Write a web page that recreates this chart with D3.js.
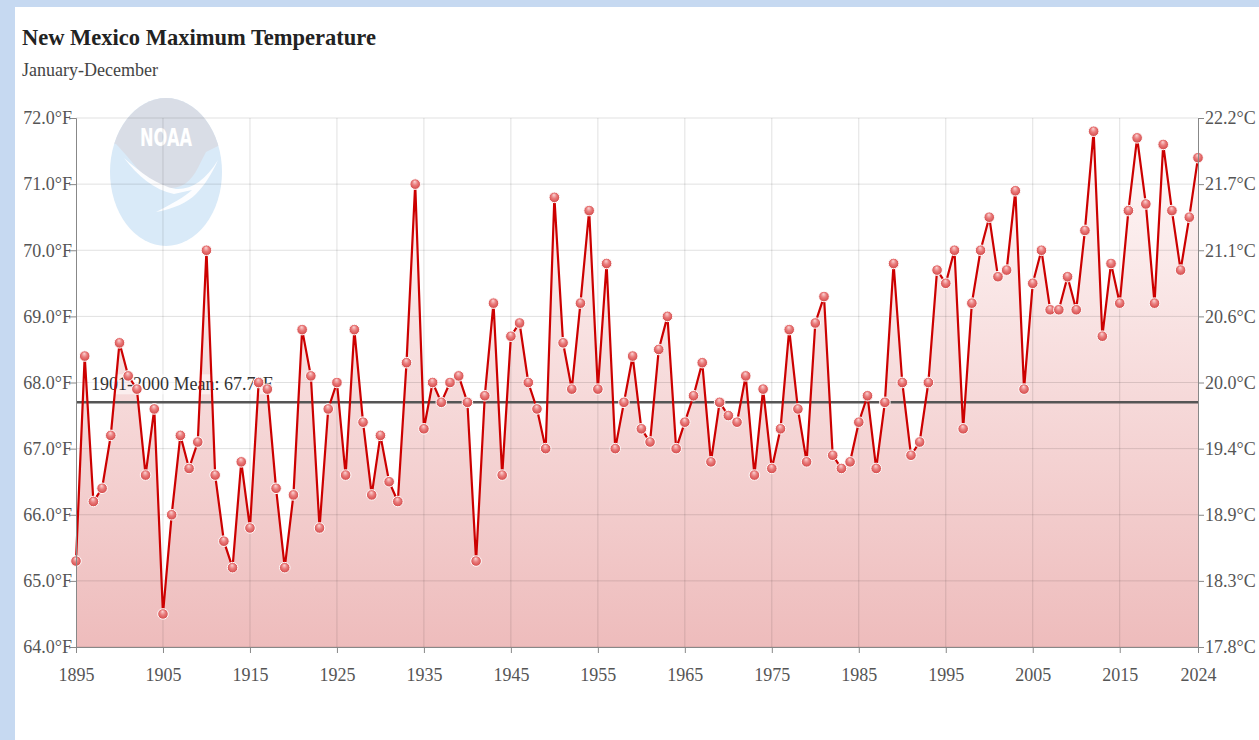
<!DOCTYPE html>
<html>
<head>
<meta charset="utf-8">
<script src="https://cdn.jsdelivr.net/npm/d3@7"></script>
<style>
  body { margin: 0; background: #c6d9f1; }
  #chart { position: absolute; left: 15px; top: 7px; width: 1244px; height: 733px; background: #fff; }
  text { font-family: "Liberation Serif", "Times New Roman", serif; }
</style>
</head>
<body>
<div id="chart"></div>
<script>
// annual values
var startYear = 1895;
var tempF = [
  65.3, 68.4, 66.2, 66.4, 67.2, 68.6, 68.1, 67.9, 66.6, 67.6,
  64.5, 66.0, 67.2, 66.7, 67.1, 70.0, 66.6, 65.6, 65.2, 66.8,
  65.8, 68.0, 67.9, 66.4, 65.2, 66.3, 68.8, 68.1, 65.8, 67.6,
  68.0, 66.6, 68.8, 67.4, 66.3, 67.2, 66.5, 66.2, 68.3, 71.0,
  67.3, 68.0, 67.7, 68.0, 68.1, 67.7, 65.3, 67.8, 69.2, 66.6,
  68.7, 68.9, 68.0, 67.6, 67.0, 70.8, 68.6, 67.9, 69.2, 70.6,
  67.9, 69.8, 67.0, 67.7, 68.4, 67.3, 67.1, 68.5, 69.0, 67.0,
  67.4, 67.8, 68.3, 66.8, 67.7, 67.5, 67.4, 68.1, 66.6, 67.9,
  66.7, 67.3, 68.8, 67.6, 66.8, 68.9, 69.3, 66.9, 66.7, 66.8,
  67.4, 67.8, 66.7, 67.7, 69.8, 68.0, 66.9, 67.1, 68.0, 69.7,
  69.5, 70.0, 67.3, 69.2, 70.0, 70.5, 69.6, 69.7, 70.9, 67.9,
  69.5, 70.0, 69.1, 69.1, 69.6, 69.1, 70.3, 71.8, 68.7, 69.8,
  69.2, 70.6, 71.7, 70.7, 69.2, 71.6, 70.6, 69.7, 70.5, 71.4
];
var yearTicks = [1895, 1905, 1915, 1925, 1935, 1945, 1955, 1965, 1975, 1985, 1995, 2005, 2015, 2024];
var fTicks = [64, 65, 66, 67, 68, 69, 70, 71, 72];
var meanF = 67.7;
var titleText = "New Mexico Maximum Temperature";
var subtitleText = "January-December";

var data = tempF.map(function(v, i) { return { year: startYear + i, value: v }; });

var margin = { left: 61, top: 111, right: 61, bottom: 93 };
var fullW = 1244, fullH = 733;
var width = fullW - margin.left - margin.right,
    height = fullH - margin.top - margin.bottom;

var x = d3.scaleLinear().domain([1895, 2024]).range([0, width]);
var y = d3.scaleLinear().domain([64, 72]).range([height, 0]);
var toC = function(f) { return (f - 32) * 5 / 9; };
var yC = d3.scaleLinear().domain([toC(64), toC(72)]).range([height, 0]);

var svg = d3.select("#chart").append("svg")
    .attr("width", fullW)
    .attr("height", fullH);

var defs = svg.append("defs");
var areaGrad = defs.append("linearGradient")
    .attr("id", "areaGrad")
    .attr("gradientUnits", "userSpaceOnUse")
    .attr("x1", 0).attr("y1", 0).attr("x2", 0).attr("y2", height);
areaGrad.append("stop").attr("offset", "0%").attr("stop-color", "#fffafa");
areaGrad.append("stop").attr("offset", "100%").attr("stop-color", "#eebcbc");

var dotGrad = defs.append("radialGradient")
    .attr("id", "dotGrad")
    .attr("cx", "50%").attr("cy", "50%").attr("r", "55%")
    .attr("fx", "45%").attr("fy", "25%");
dotGrad.append("stop").attr("offset", "0%").attr("stop-color", "#fbd6d6");
dotGrad.append("stop").attr("offset", "45%").attr("stop-color", "#e97c7c");
dotGrad.append("stop").attr("offset", "100%").attr("stop-color", "#d04040");

// titles
svg.append("text")
    .attr("x", 7).attr("y", 38)
    .style("font-size", "22.5px").style("font-weight", "bold").style("fill", "#222")
    .text(titleText);
svg.append("text")
    .attr("x", 7).attr("y", 69)
    .style("font-size", "18px").style("fill", "#444")
    .text(subtitleText);

var g = svg.append("g")
    .attr("transform", "translate(" + margin.left + "," + margin.top + ")");

// NOAA watermark
var logo = g.append("g").attr("transform", "translate(90,54)");
defs.append("clipPath").attr("id", "logoClip")
    .append("ellipse").attr("cx", 0).attr("cy", 0).attr("rx", 56).attr("ry", 74);
logo.append("ellipse").attr("cx", 0).attr("cy", 0).attr("rx", 56).attr("ry", 74)
    .style("fill", "#d9eaf8");
logo.append("path")
    .attr("clip-path", "url(#logoClip)")
    .attr("d", "M-60,-80 L60,-80 L60,-30 L40,-20 C32,-5 28,8 15,14 C5,18 -8,16 -18,8 C-30,-4 -40,-18 -50,-28 L-60,-30 Z")
    .style("fill", "#d9dde6");
logo.append("path")
    .attr("d", "M-42,-14 C-28,4 -12,18 8,22 L26,18 C20,24 6,32 -10,40 C8,37 22,30 30,22 C38,14 46,2 52,-12 C40,8 25,18 10,17 C-8,14 -26,0 -42,-14 Z")
    .style("fill", "#ffffff").style("opacity", 0.9);
logo.append("text")
    .attr("x", 0).attr("y", -26)
    .attr("text-anchor", "middle")
    .style("font-family", "'DejaVu Sans Condensed', 'DejaVu Sans', sans-serif")
    .style("font-size", "20px").style("font-weight", "bold")
    .style("fill", "#fff")
    .attr("transform", "translate(0,-26) scale(0.9,1.2) translate(0,26)")
    .text("NOAA");

// area under the line
var area = d3.area()
    .x(function(d) { return x(d.year); })
    .y0(height)
    .y1(function(d) { return y(d.value); });
g.append("path").datum(data)
    .attr("d", area)
    .style("fill", "url(#areaGrad)");

// grid
g.append("g").attr("class", "grid")
    .selectAll("line.h").data(fTicks).enter().append("line")
    .attr("x1", 0).attr("x2", width)
    .attr("y1", function(d) { return y(d); }).attr("y2", function(d) { return y(d); })
    .style("stroke", "rgba(0,0,0,0.12)").style("stroke-width", 1);
g.append("g").attr("class", "grid")
    .selectAll("line.v").data(yearTicks.slice(1, -1)).enter().append("line")
    .attr("x1", function(d) { return x(d); }).attr("x2", function(d) { return x(d); })
    .attr("y1", 0).attr("y2", height)
    .style("stroke", "rgba(0,0,0,0.12)").style("stroke-width", 1);

// mean line and label
g.append("line")
    .attr("x1", 0).attr("x2", width)
    .attr("y1", y(meanF)).attr("y2", y(meanF))
    .style("stroke", "#555").style("stroke-width", 2.5);
var meanLabel = g.append("g");
var meanText = meanLabel.append("text")
    .attr("x", 15).attr("y", y(meanF) - 12)
    .style("font-size", "18px").style("fill", "#333")
    .text("1901-2000 Mean: " + meanF.toFixed(1) + "°F");
var bb = meanText.node().getBBox();
meanLabel.insert("rect", "text")
    .attr("x", bb.x - 2).attr("y", bb.y)
    .attr("width", bb.width + 4).attr("height", bb.height)
    .style("fill", "#fff").style("opacity", 0.55);

// line and points
var valueline = d3.line()
    .x(function(d) { return x(d.year); })
    .y(function(d) { return y(d.value); });
g.append("path").datum(data)
    .attr("d", valueline)
    .style("fill", "none").style("stroke", "#cc0000").style("stroke-width", 2.2);
g.append("g").selectAll("circle").data(data).enter().append("circle")
    .attr("cx", function(d) { return x(d.year); })
    .attr("cy", function(d) { return y(d.value); })
    .attr("r", 5.3)
    .style("fill", "url(#dotGrad)")
    .style("stroke", "#fff").style("stroke-width", 1);

// axes
var yAxis = d3.axisLeft(y).tickValues(fTicks).tickSize(6)
    .tickFormat(function(d) { return d.toFixed(1) + "°F"; });
var yAxisR = d3.axisRight(yC).tickValues(fTicks.map(toC)).tickSize(6)
    .tickFormat(function(d) { return d.toFixed(1) + "°C"; });
var xAxis = d3.axisBottom(x).tickValues(yearTicks).tickSize(6)
    .tickFormat(d3.format("d"));

function styleAxis(sel) {
    sel.selectAll("path.domain").style("stroke", "#888").style("stroke-width", 1);
    sel.selectAll(".tick line").style("stroke", "#888");
    sel.selectAll(".tick text").style("font-family", "'Liberation Serif', serif")
        .style("font-size", "18px").style("fill", "#555");
}

g.append("g").attr("class", "y axis").call(yAxis).call(styleAxis)
    .selectAll(".tick text").attr("x", -4);
g.append("g").attr("class", "y axis")
    .attr("transform", "translate(" + width + ",0)")
    .call(yAxisR).call(styleAxis)
    .selectAll(".tick text").attr("x", 7);
g.append("g").attr("class", "x axis")
    .attr("transform", "translate(0," + height + ")")
    .call(xAxis).call(styleAxis)
    .selectAll(".tick text").attr("y", 21);
</script>
</body>
</html>
